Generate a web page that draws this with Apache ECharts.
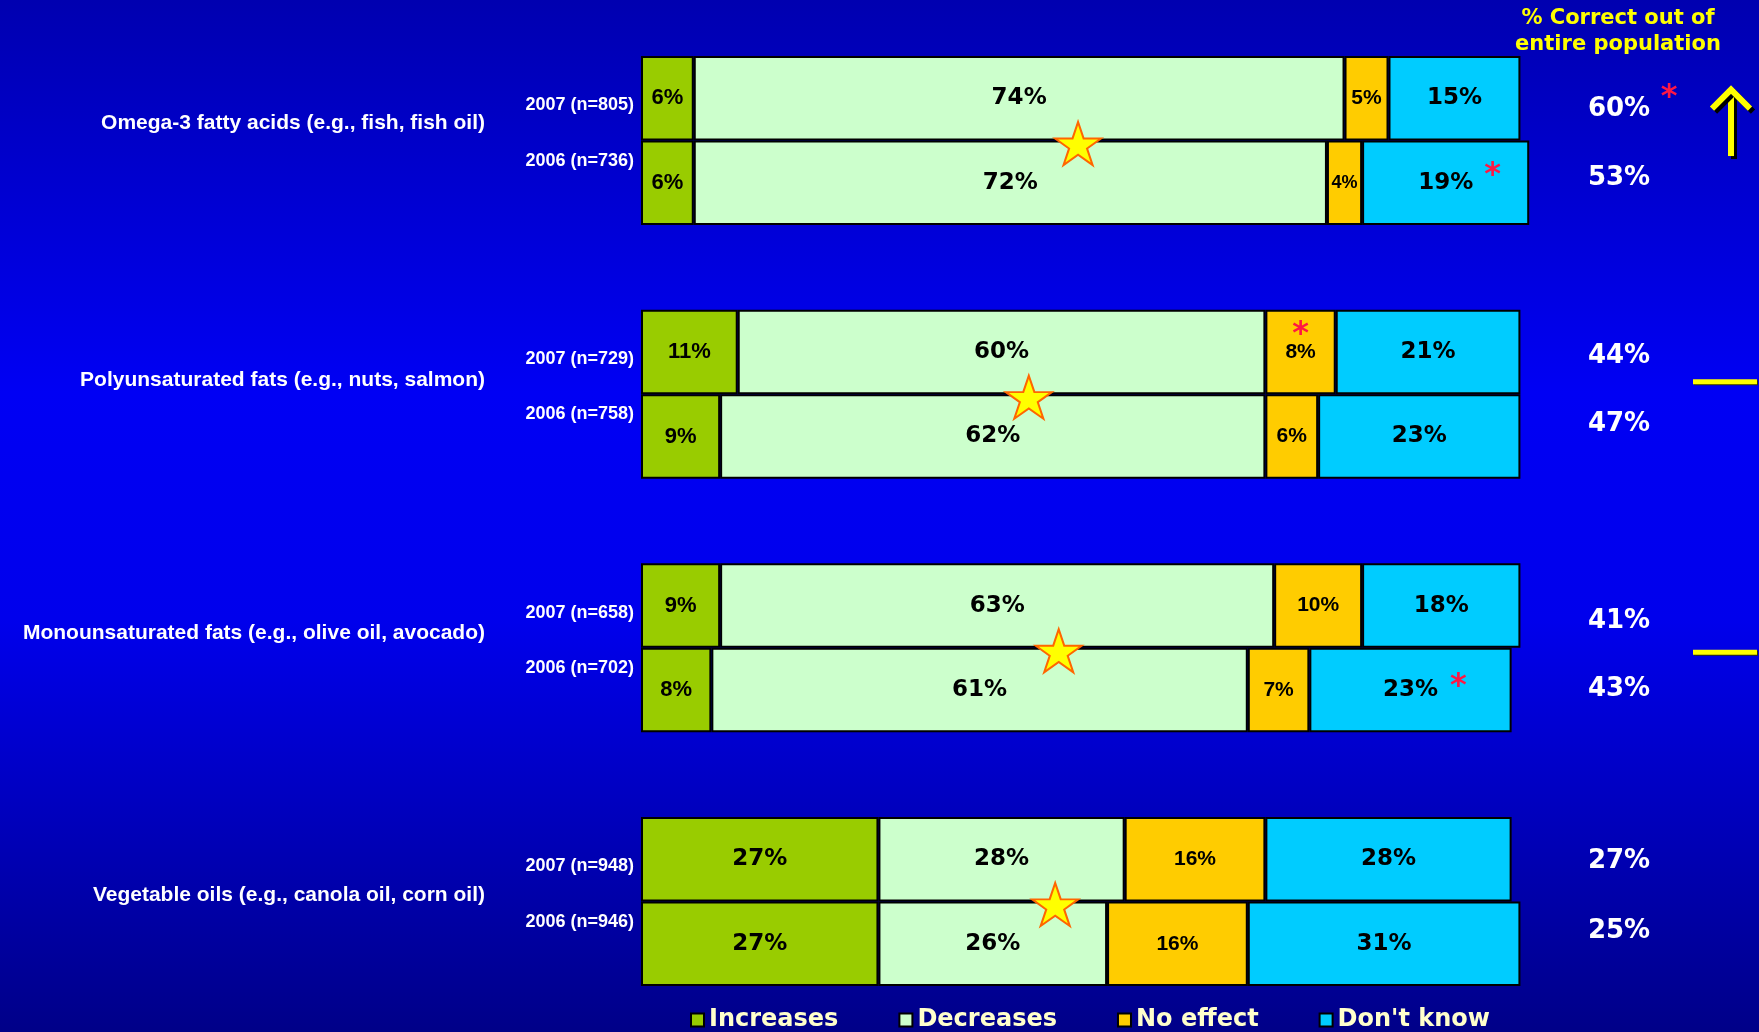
<!DOCTYPE html>
<html><head><meta charset="utf-8">
<script src="https://cdn.jsdelivr.net/npm/echarts@6/dist/echarts.min.js"></script>
<style>html,body{margin:0;padding:0;width:1759px;height:1032px;overflow:hidden;background:#0000c0;}
#chart{width:1759px;height:1032px;}</style></head>
<body><div id="chart"></div>
<script>
// ---------------- DATA ----------------
const groupNames = [
  'Omega-3 fatty acids (e.g., fish, fish oil)',
  'Polyunsaturated fats (e.g., nuts, salmon)',
  'Monounsaturated fats (e.g., olive oil, avocado)',
  'Vegetable oils (e.g., canola oil, corn oil)'
];
const yearLabels = [
  ['2007 (n=805)', '2006 (n=736)'],
  ['2007 (n=729)', '2006 (n=758)'],
  ['2007 (n=658)', '2006 (n=702)'],
  ['2007 (n=948)', '2006 (n=946)']
];
const seriesNames = ['Increases', 'Decreases', 'No effect', "Don't know"];
const increases = [6, 6, 11, 9, 9, 8, 27, 27];
const decreases = [74, 72, 60, 62, 63, 61, 28, 26];
const noEffect  = [5, 4, 8, 6, 10, 7, 16, 16];
const dontKnow  = [15, 19, 21, 23, 18, 23, 28, 31];
const correctPct = [60, 53, 44, 47, 41, 43, 27, 25];
const starX = [49.7, 44.1, 47.5, 47.1];           // star position (% axis) per group
const trend = ['up', 'same', 'same', null];         // indicator per group
const headerText = '% Correct out of\nentire population';

// ---------------- STYLE / LAYOUT ----------------
const colors = ['#99CC00', '#CCFFCC', '#FFCC00', '#00CCFF'];
const seriesValues = [increases, decreases, noEffect, dontKnow];
const GRID = { left: 641, top: 56, width: 897, height: 930 };
const nBands = groupNames.length * 3 - 1;
const groupNameDy = [-17, -14, -15, -6];
const valueDy = [10.6, -4.4, 3.9, -12.2, 16.2, -1, 1.6, -12.2];
const trendDy = [0, -9, 8, 0];

const WIDE = '"DejaVu Sans", Verdana, sans-serif';
const NARROW = '"Liberation Sans", Arial, sans-serif';

const cats = [];
const barCat = [];
groupNames.forEach((g, gi) => {
  yearLabels[gi].forEach((y, yi) => { barCat.push(cats.length); cats.push('b' + gi + '_' + yi); });
  if (gi < groupNames.length - 1) cats.push('gap' + gi);
});
function labelStyle(si, v) {
  if (si === 2) return { fontFamily: NARROW, fontSize: v <= 4 ? 18 : 21 };
  if (v < 12) return { fontFamily: NARROW, fontSize: 22 };
  return { fontFamily: WIDE, fontSize: 23 };
}
function spread(arr, si) {
  const out = cats.map(() => '-');
  arr.forEach((v, i) => { out[barCat[i]] = { value: v, label: labelStyle(si, v) }; });
  return out;
}

const starPath = 'path://M50,0 L61.8,35.1 L98.9,35.1 L69.1,56.7 L80.9,91.9 L50,70 L19.1,91.9 L30.9,56.7 L1.1,35.1 L38.2,35.1 Z';

const chart = echarts.init(document.getElementById('chart'), null, { renderer: 'canvas' });
const series = seriesNames.map((name, si) => ({
  type: 'bar', name: name, stack: 'total', barWidth: '100%',
  data: spread(seriesValues[si], si),
  itemStyle: { color: colors[si], borderColor: '#000', borderWidth: 2 },
  label: { show: true, position: 'inside', color: '#000', fontFamily: WIDE, fontWeight: 'bold', fontSize: 23,
           formatter: p => p.value + '%' },
  emphasis: { disabled: true }, z: 2
}));
series.push({
  type: 'scatter', name: 'star', xAxisIndex: 0, yAxisIndex: 1,
  data: starX.map((x, g) => [x, 3 * g + 1]),
  symbol: starPath, symbolSize: [46, 43], symbolOffset: [0, 3],
  itemStyle: { color: '#FFFF00', borderColor: '#FF6600', borderWidth: 2, opacity: 1 },
  emphasis: { disabled: true }, z: 5, silent: true
});

chart.setOption({
  animation: false,
  backgroundColor: new echarts.graphic.LinearGradient(0, 0, 0, 1, [
    { offset: 0, color: '#0000B0' },
    { offset: 0.38, color: '#0000F4' },
    { offset: 0.6, color: '#0000EC' },
    { offset: 1, color: '#000088' }
  ]),
  grid: { left: GRID.left, top: GRID.top, width: GRID.width, height: GRID.height, containLabel: false },
  xAxis: { type: 'value', min: 0, max: 102, show: false },
  yAxis: [
    { type: 'category', data: cats, inverse: true, show: false },
    { type: 'value', min: 0, max: nBands, inverse: true, show: false }
  ],
  legend: {
    data: seriesNames, left: 685, top: 1003, icon: 'rect', itemWidth: 13, itemHeight: 13, itemGap: 60,
    textStyle: { color: '#FFFFCC', fontFamily: 'DejaVu Sans', fontWeight: 'bold', fontSize: 24 }
  },
  series: series
});

// ---------------- ANNOTATIONS (positioned through the chart's scales) ----------------
const px = v => chart.convertToPixel({ xAxisIndex: 0 }, v);
const py = v => chart.convertToPixel({ yAxisIndex: 1 }, v);
const barCenter = b => py(3 * Math.floor(b / 2) + (b % 2) + 0.5);
const segCenter = (b, si) => { let s = 0; for (let k = 0; k < si; k++) s += seriesValues[k][b]; return s + seriesValues[si][b] / 2; };

const g = [];
function txt(x, y, text, font, fill, align, extra) {
  g.push({ type: 'text', silent: true, z: 20, style: Object.assign({
    x: x, y: y, text: text, font: font, fill: fill,
    align: align, textAlign: align, verticalAlign: 'middle', textVerticalAlign: 'middle'
  }, extra || {}) });
}
const valueX = 1619;
const shadow = { shadowColor: '#000', shadowOffsetX: 3, shadowOffsetY: 3, shadowBlur: 0 };
groupNames.forEach((name, gi) => {
  const boundary = py(3 * gi + 1);
  txt(485, boundary + groupNameDy[gi], name, 'bold 21px ' + NARROW, '#FFFFFF', 'right');
  yearLabels[gi].forEach((yl, yi) => {
    const b = gi * 2 + yi;
    txt(px(0) - 7, barCenter(b) + (yi === 0 ? 7 : -22), yl, 'bold 18px ' + NARROW, '#FFFFFF', 'right');
    txt(valueX, barCenter(b) + valueDy[b], correctPct[b] + '%', 'bold 26px ' + WIDE, '#FFFFFF', 'center',
        { textShadowColor: '#000000', textShadowOffsetX: 2, textShadowOffsetY: 2, textShadowBlur: 0 });
  });
  const arrowX = 1731;
  const by = boundary + trendDy[gi];
  if (trend[gi] === 'up') {
    g.push({ type: 'polyline', silent: true, z: 20, shape: { points: [[arrowX, by + 15.5], [arrowX, by - 50]] },
             style: Object.assign({ stroke: '#FFFF00', lineWidth: 6, fill: null }, shadow) });
    g.push({ type: 'polyline', silent: true, z: 20, shape: { points: [[arrowX - 19, by - 32], [arrowX, by - 51], [arrowX + 19, by - 32]] },
             style: Object.assign({ stroke: '#FFFF00', lineWidth: 6, fill: null, lineJoin: 'miter' }, shadow) });
  } else if (trend[gi] === 'same') {
    g.push({ type: 'rect', silent: true, z: 20, shape: { x: 1693, y: by - 6, width: 64, height: 5 },
             style: { fill: '#FFFF00', shadowColor: '#333300', shadowOffsetX: 1, shadowOffsetY: 1 } });
  }
});
// header
txt(1618, 32, headerText, 'bold 21px ' + WIDE, '#FFFF00', 'center',
    { lineHeight: 26, textShadowColor: '#000044', textShadowOffsetX: 1, textShadowOffsetY: 1 });

// significance asterisks
const astFont = 'bold 32px "DejaVu Sans", sans-serif';
const astColor = '#FF1744';
const barAsterisks = [ { bar: 1, s: 3, dx: 47, dy: -12 }, { bar: 2, s: 2, dx: 0, dy: -22 }, { bar: 5, s: 3, dx: 48, dy: -8 } ];
barAsterisks.forEach(a => txt(px(segCenter(a.bar, a.s)) + a.dx, barCenter(a.bar) + a.dy + 5, '*', astFont, astColor, 'center'));
const valueAsterisks = [ { bar: 0, dx: 50, dy: -6 } ];
valueAsterisks.forEach(a => txt(valueX + a.dx, barCenter(a.bar) + a.dy + 5, '*', astFont, astColor, 'center'));

chart.setOption({ graphic: { elements: g } });
</script>
</body></html>
